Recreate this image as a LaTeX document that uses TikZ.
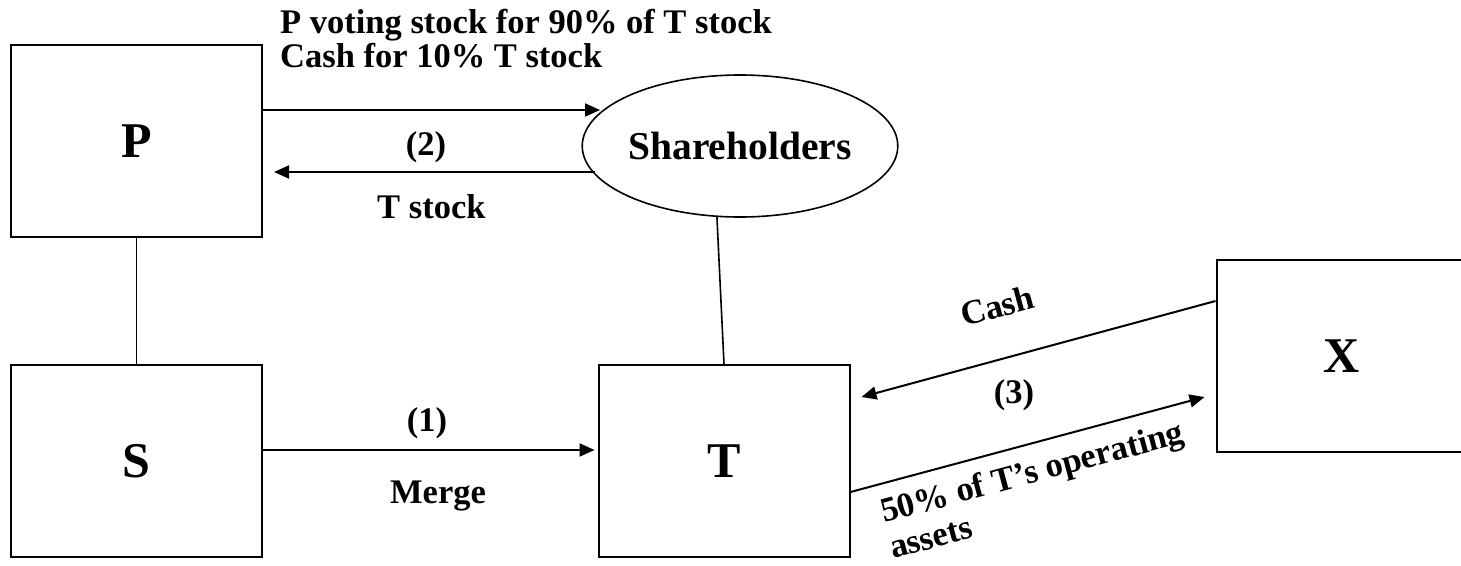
\documentclass[tikz,border=0pt]{standalone}
\usepackage{fontspec}
\setmainfont{Liberation Serif}
\usetikzlibrary{arrows.meta,shapes.geometric,calc}
\begin{document}
\begin{tikzpicture}[x=1pt,y=-1pt,
  box/.style={draw,line width=2pt,minimum width=251pt,minimum height=192pt,inner sep=0pt,font=\bfseries\fontsize{50}{53}\selectfont},
  oval/.style={draw,ellipse,line width=1.6pt,minimum width=310pt,minimum height=142pt,inner sep=0pt,font=\bfseries\fontsize{39.5}{42}\selectfont},
  lbl/.style={inner sep=0pt,font=\bfseries\fontsize{34.5}{37}\selectfont},
  arr/.style={line width=2pt,-{Triangle[length=15pt,width=13pt]}},
  link/.style={line width=1.6pt}]
\useasboundingbox (0,0) rectangle (1461,565);
\node[box] (P) at (136.5,141) {P};
\node[box] (S) at (136.5,461) {S};
\node[box] (T) at (724,461) {T};
\node[box] (X) at (1342,356) {X};
\node[oval] (SH) at (740,146) {Shareholders};
\draw[link] (P) -- (S);
\draw[link] (SH.252) -- (T.north);
\draw[arr] ($(P.east)+(0,-31)$) -- ($(SH.center)+(-140,-36)$);
\draw[arr] ($(SH.center)+(-145,26)$) -- ($(P.east)+(11,31)$);
\draw[arr] ($(S.east)+(0,-11)$) -- ($(T.west)+(-3,-11)$);
\draw[arr] ($(X.west)+(0,-55)$) -- ($(T.east)+(11,-64)$);
\draw[arr] ($(T.east)+(0,31)$) -- ($(X.west)+(-11,41)$);
\node[lbl,anchor=base west] (L1) at (280,33) {P voting stock for 90\% of T stock};
\node[lbl,anchor=base west] (L2) at (280,67) {Cash for 10\% T stock};
\node[lbl] (n2) at (426,147.5) {(2)};
\node[lbl,anchor=base west] (Ts) at (377,218) {T stock};
\node[lbl] (n1) at (427,423) {(1)};
\node[lbl,anchor=base] (mg) at (438,503) {Merge};
\node[lbl,anchor=base west,rotate=15] (cash) at (964,327) {Cash};
\node[lbl] (n3) at (1014,395) {(3)};
\node[lbl,anchor=base west,rotate=15] (a1) at (884,523) {50\% of T’s operating};
\node[lbl,anchor=base west,rotate=15] (a2) at (893,559) {assets};
\end{tikzpicture}
\end{document}
